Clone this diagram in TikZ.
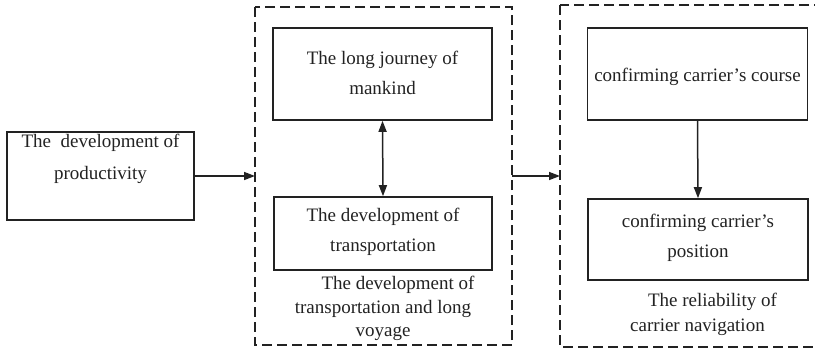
\documentclass[tikz,border=0pt]{standalone}
\usepackage{fontspec}
\setmainfont{Liberation Serif}
\usetikzlibrary{arrows.meta}
\definecolor{ink}{HTML}{222222}
\tikzset{
  box/.style={draw=ink, line width=1.6pt, inner sep=0pt},
  group/.style={draw=ink, line width=1.4pt, dash pattern=on 10pt off 5pt},
  txt/.style={text=ink, font=\fontsize{19}{30}\selectfont, align=center, inner sep=0pt},
  tip/.tip={Triangle[length=11pt,width=8pt]},
  arr/.style={draw=ink, line width=1.5pt, -tip},
  darr/.style={draw=ink, line width=1.5pt, tip-tip}
}
\begin{document}
\begin{tikzpicture}[x=1pt,y=-1pt]
\useasboundingbox (0,0) rectangle (815,349);
\clip (0,0) rectangle (815,349);
\fill[white] (0,0) rectangle (815,349);

% group frames
\draw[group] (255,7) rectangle (512,345);
\draw[group] (560,5) rectangle (830,347);
\coordinate (gmidL) at (255,176);
\coordinate (gmidR) at (512,176);
\coordinate (grightL) at (560,176);

% source box
\node[box, minimum width=187pt, minimum height=88pt] (prod) at (100.5,176) {};
\node[txt, font=\fontsize{19}{32}\selectfont] (prodt) at (100.5,159) {The\ \ development of\\productivity};

% middle group
\node[box, minimum width=219pt, minimum height=92pt] (journey) at (382.5,74) {};
\node[txt, font=\fontsize{19}{29.5}\selectfont] at (382.5,73) {The long journey of\\mankind};
\node[box, minimum width=218pt, minimum height=73pt] (transp) at (383,233.5) {};
\node[txt] at (383,232) {The development of\\transportation};
\node[txt, font=\fontsize{19}{23.5}\selectfont] (gmidlab) at (383,308.5) {\hspace*{30pt}The development of\\transportation and long\\voyage};

% right group
\node[box, minimum width=220pt, minimum height=92pt] (course) at (697.5,74) {};
\node[txt] at (697.5,77) {confirming carrier’s course};
\node[box, minimum width=220pt, minimum height=81pt] (position) at (698,239.5) {};
\node[txt] at (698,238) {confirming carrier’s\\position};
\node[txt, font=\fontsize{19}{25}\selectfont] (grightlab) at (697.5,314.5) {\hspace*{30pt}The reliability of\\carrier navigation};

% connectors
\draw[arr] (prod.east) -- (gmidL);
\draw[darr] (journey.south) -- (transp.north);
\draw[arr] (gmidR) -- (grightL);
\draw[arr] (course.south) -- (position.north);
\end{tikzpicture}
\end{document}
